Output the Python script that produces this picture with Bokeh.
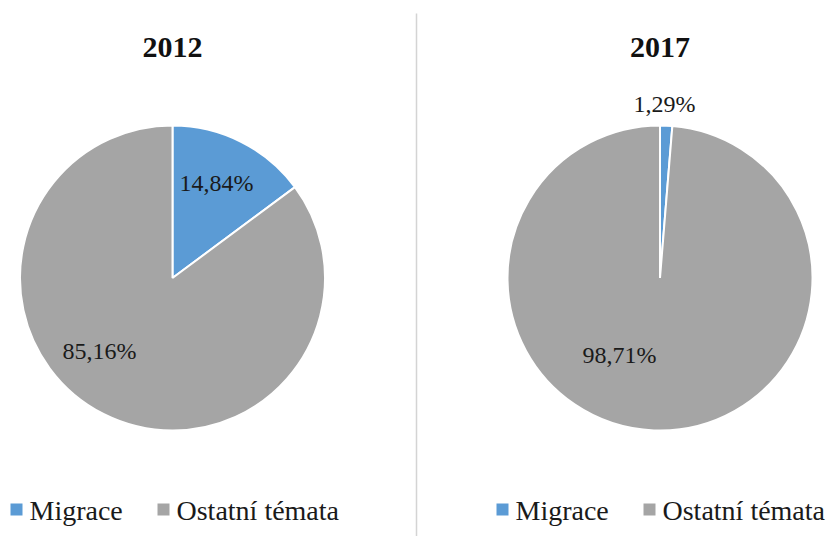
import math
from bokeh.plotting import figure
from bokeh.models import Range1d
from bokeh.core.properties import value
from bokeh.embed import file_html
from bokeh.resources import INLINE

# ---- data ----
categories = ["Migrace", "Ostatní témata"]
colors = ["#5B9BD5", "#A5A5A5"]
years = ["2012", "2017"]
shares_2012 = [14.84, 85.16]
shares_2017 = [1.29, 98.71]
labels_2012 = ["14,84%", "85,16%"]
labels_2017 = ["1,29%", "98,71%"]

# ---- layout (screen pixel coordinates) ----
W, H = 835, 536
FONT = "'Liberation Serif', 'DejaVu Serif', serif"

def Y(s):
    return H - s

p = figure(width=W, height=H, output_backend="svg", toolbar_location=None,
           x_range=Range1d(0, W), y_range=Range1d(0, H),
           min_border=0, outline_line_color=None)
p.axis.visible = False
p.grid.visible = False
p.background_fill_color = "white"
p.border_fill_color = "white"

pies = [
    dict(year=years[0], shares=shares_2012, labels=labels_2012, cx=172, cy=277.5,
         label_pos=[(216, 182), (99, 350)], legend_x=10),
    dict(year=years[1], shares=shares_2017, labels=labels_2017, cx=659.5, cy=277.5,
         label_pos=[(664, 103), (619, 354)], legend_x=496),
]
R = 152.5

for pie in pies:
    total = sum(pie["shares"])
    start = math.pi / 2
    starts, ends = [], []
    for v in pie["shares"]:
        ang = 2 * math.pi * v / total
        starts.append(start - ang)
        ends.append(start)
        start -= ang
    p.wedge(x=[pie["cx"]] * len(starts), y=[Y(pie["cy"])] * len(starts), radius=R,
            start_angle=starts, end_angle=ends, fill_color=colors,
            line_color="white", line_width=2)
    # data labels
    for (lx, ly), t in zip(pie["label_pos"], pie["labels"]):
        p.text(x=[lx], y=[Y(ly)], text=[t], text_align="center", text_baseline="middle",
               text_font=value(FONT), text_font_size="24px", text_color="#1a1a1a")
    # title
    p.text(x=[pie["cx"]], y=[Y(47)], text=[pie["year"]], text_align="center",
           text_baseline="middle", text_font=value(FONT), text_font_size="30px",
           text_font_style="bold", text_color="#111111")
    # legend
    lx = pie["legend_x"]
    offsets = [0, 147]
    for off, cat, col in zip(offsets, categories, colors):
        p.scatter(x=[lx + off + 6], y=[Y(509)], marker="square", size=12,
                  fill_color=col, line_color=None)
        p.text(x=[lx + off + 19], y=[Y(510)], text=[cat], text_align="left",
               text_baseline="middle", text_font=value(FONT), text_font_size="28px",
               text_color="#1a1a1a")

# separator
p.line(x=[416, 416], y=[Y(13), Y(540)], line_color="#d4d4d4", line_width=1.5)

open("out.html", "w").write(file_html(p, INLINE))
